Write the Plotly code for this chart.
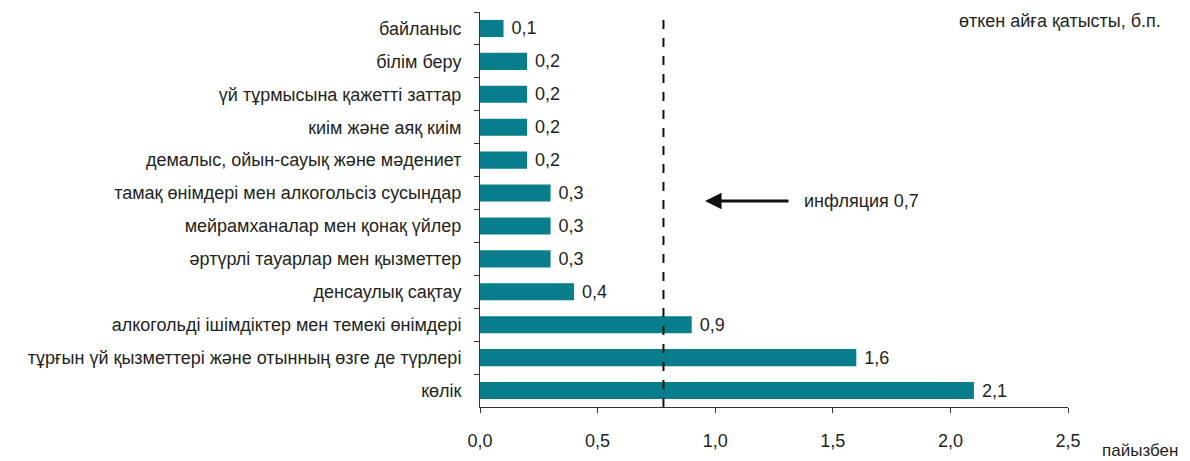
import plotly.graph_objects as go

categories = ['байланыс', 'білім беру', 'үй тұрмысына қажетті заттар', 'киім және аяқ киім',
              'демалыс, ойын-сауық және мәдениет', 'тамақ өнімдері мен алкогольсіз сусындар',
              'мейрамханалар мен қонақ үйлер', 'әртүрлі тауарлар мен қызметтер', 'денсаулық сақтау',
              'алкогольді ішімдіктер мен темекі өнімдері', 'тұрғын үй қызметтері және отынның өзге де түрлері',
              'көлік']
values = [0.1, 0.2, 0.2, 0.2, 0.2, 0.3, 0.3, 0.3, 0.4, 0.9, 1.6, 2.1]
inflation_line = 0.78
x_ticks = [0, 0.5, 1.0, 1.5, 2.0, 2.5]

txt = '#231f20'
fnt = dict(family='Liberation Sans, Arial', size=18, color=txt)

fig = go.Figure(go.Bar(
    x=values, y=categories, orientation='h',
    marker=dict(color='#087d8c', line=dict(width=0)),
    width=0.52,
    texttemplate=' %{x:.1f}', textposition='outside', cliponaxis=False,
    constraintext='none', textfont=fnt,
))

fig.add_shape(type='line', x0=inflation_line, x1=inflation_line, y0=0, y1=1, yref='paper',
              line=dict(color='#111', width=2, dash='dash'))

# arrow pointing at the inflation line
fig.add_annotation(x=0.957, y=0.5215, yref='paper', ax=1.318, ay=0, axref='x', ayref='pixel',
                   text='', showarrow=True, arrowhead=2, arrowsize=1.1, arrowwidth=3, arrowcolor='#111')
fig.add_annotation(x=1.37, y=0.5215, yref='paper', text='инфляция 0,7', showarrow=False,
                   xanchor='left', font=fnt)
fig.add_annotation(x=1.19, y=-0.138, xref='paper', yref='paper', text='пайызбен', showarrow=False,
                   xanchor='right', font=dict(fnt, size=17))
fig.add_annotation(x=1.1616, y=1.008, xref='paper', yref='paper', text='өткен айға қатысты, б.п.',
                   showarrow=False, xanchor='right', yanchor='top', font=fnt)

fig.update_layout(
    width=1190, height=461,
    margin=dict(l=472, r=130, t=4, b=62),
    paper_bgcolor='white', plot_bgcolor='white',
    separators=', ',
    showlegend=False,
    font=fnt,
)
fig.update_xaxes(range=[0, 2.5], tickvals=x_ticks, ticktext=[f'{v:.1f}'.replace('.', ',') for v in x_ticks],
                 showgrid=False, zeroline=False, showline=True, linecolor='#333', linewidth=1,
                 ticks='outside', ticklen=5, tickcolor='#333', ticklabelstandoff=12, tickfont=fnt)
fig.update_yaxes(autorange='reversed', showgrid=False, showline=True, linecolor='#333', linewidth=1,
                 ticks='outside', ticklen=5, tickcolor='#333', tickson='boundaries',
                 ticklabelstandoff=14, tickfont=fnt)

fig.write_html('out.html')
